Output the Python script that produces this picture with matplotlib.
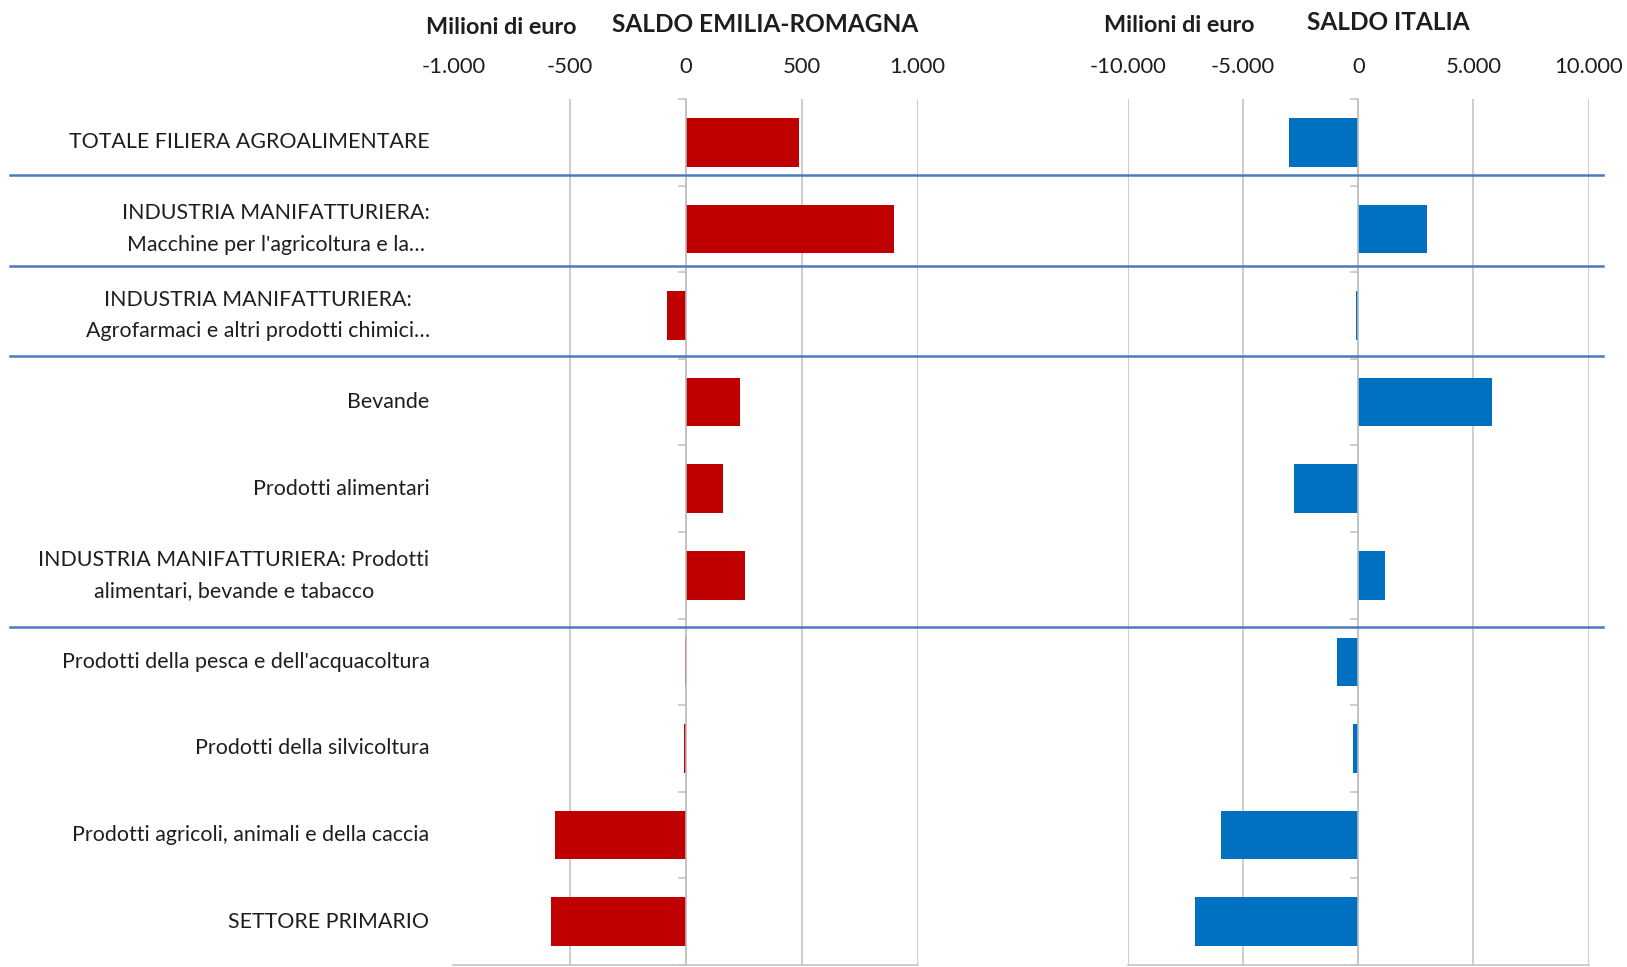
import matplotlib
matplotlib.use("Agg")
import matplotlib.pyplot as plt
from matplotlib.lines import Line2D
from matplotlib import transforms
from matplotlib.ticker import FuncFormatter, FixedLocator

plt.rcParams['font.family'] = ['Lato', 'DejaVu Sans']

# ---------------- data ----------------
categories = [
    "TOTALE FILIERA AGROALIMENTARE",
    "INDUSTRIA MANIFATTURIERA:\nMacchine per l'agricoltura e la…",
    "INDUSTRIA MANIFATTURIERA:\nAgrofarmaci e altri prodotti chimici…",
    "Bevande",
    "Prodotti alimentari",
    "INDUSTRIA MANIFATTURIERA: Prodotti\nalimentari, bevande e tabacco",
    "Prodotti della pesca e dell'acquacoltura",
    "Prodotti della silvicoltura",
    "Prodotti agricoli, animali e della caccia",
    "SETTORE PRIMARIO",
]
saldo_er = [490, 900, -80, 237, 161, 256, -4, -8, -562, -580]
saldo_it = [-3020, 2965, -80, 5800, -2800, 1170, -925, -240, -5955, -7100]
ticks_er = [-1000, -500, 0, 500, 1000]
ticks_it = [-10000, -5000, 0, 5000, 10000]
title_er = "SALDO EMILIA-ROMAGNA"
title_it = "SALDO ITALIA"
unit_label = "Milioni di euro"

# ---------------- style ----------------
RED = "#C00000"
BLUE = "#0070C0"
GRID = "#c0c0c0"
SEP = "#4a7bc0"
TXT = "#1e1e1e"

W, H = 1627, 967
fig = plt.figure(figsize=(W / 100, H / 100), dpi=100)

def fmt(v, pos=None):
    return f"{v:,.0f}".replace(",", ".")

def setup(ax, values, ticks, color):
    n = len(values)
    ypos = list(range(n))
    ax.barh(ypos, values, height=0.56, color=color, zorder=3)
    ax.set_xlim(ticks[0], ticks[-1])
    ax.set_ylim(n - 0.5, -0.5)
    ax.xaxis.set_major_locator(FixedLocator(ticks))
    ax.xaxis.set_major_formatter(FuncFormatter(fmt))
    ax.xaxis.tick_top()
    ax.tick_params(axis='x', length=0, pad=16, labelsize=15.8, labelcolor=TXT)
    ax.grid(axis='x', color=GRID, lw=1.1, zorder=0)
    ax.spines['top'].set_visible(False)
    ax.spines['right'].set_visible(False)
    ax.spines['bottom'].set_color(GRID)
    ax.spines['bottom'].set_linewidth(1.1)
    ax.spines['left'].set_position(('data', 0))
    ax.spines['left'].set_color(GRID)
    ax.spines['left'].set_linewidth(1.1)
    ax.spines['left'].set_zorder(4)
    ax.set_yticks([])
    ax.set_yticks([i - 0.5 for i in range(n + 1)], minor=True)
    ax.tick_params(axis='y', which='minor', length=6, color=GRID, width=1.1,
                   labelleft=False)
    ax.set_facecolor('none')

axL = fig.add_axes([453.5 / W, 2 / H, (917.5 - 453.5) / W, (965 - 99) / H])
axR = fig.add_axes([1128 / W, 2 / H, (1588.5 - 1128) / W, (965 - 99) / H])
setup(axL, saldo_er, ticks_er, RED)
setup(axR, saldo_it, ticks_it, BLUE)

# category labels
ytr = axL.get_yaxis_transform()
for i, lab in enumerate(categories):
    axL.text(-24 / (917.5 - 453.5), i, lab, transform=ytr, ha='right', va='center',
             multialignment='center', fontsize=15.4, color=TXT, linespacing=1.72)

# titles
fig.text(576 / W, 1 - 28 / H, unit_label, ha='right', va='center',
         fontsize=16.8, fontweight='bold', color=TXT)
fig.text(765 / W, 1 - 25 / H, title_er, ha='center', va='center',
         fontsize=17.6, fontweight='bold', color=TXT)
fig.text(1254 / W, 1 - 26 / H, unit_label, ha='right', va='center',
         fontsize=16.8, fontweight='bold', color=TXT)
fig.text(1388 / W, 1 - 23 / H, title_it, ha='center', va='center',
         fontsize=17.6, fontweight='bold', color=TXT)

# separator lines between groups (decorative)
sep_pos = [0.383, 1.423, 2.464, 5.598]
btr = transforms.blended_transform_factory(fig.transFigure, axL.transData)
for yv in sep_pos:
    fig.add_artist(Line2D([10 / W, 1603 / W], [yv, yv], transform=btr,
                          color=SEP, lw=1.8, zorder=5))

fig.savefig("out.png", dpi=100, facecolor='white')
